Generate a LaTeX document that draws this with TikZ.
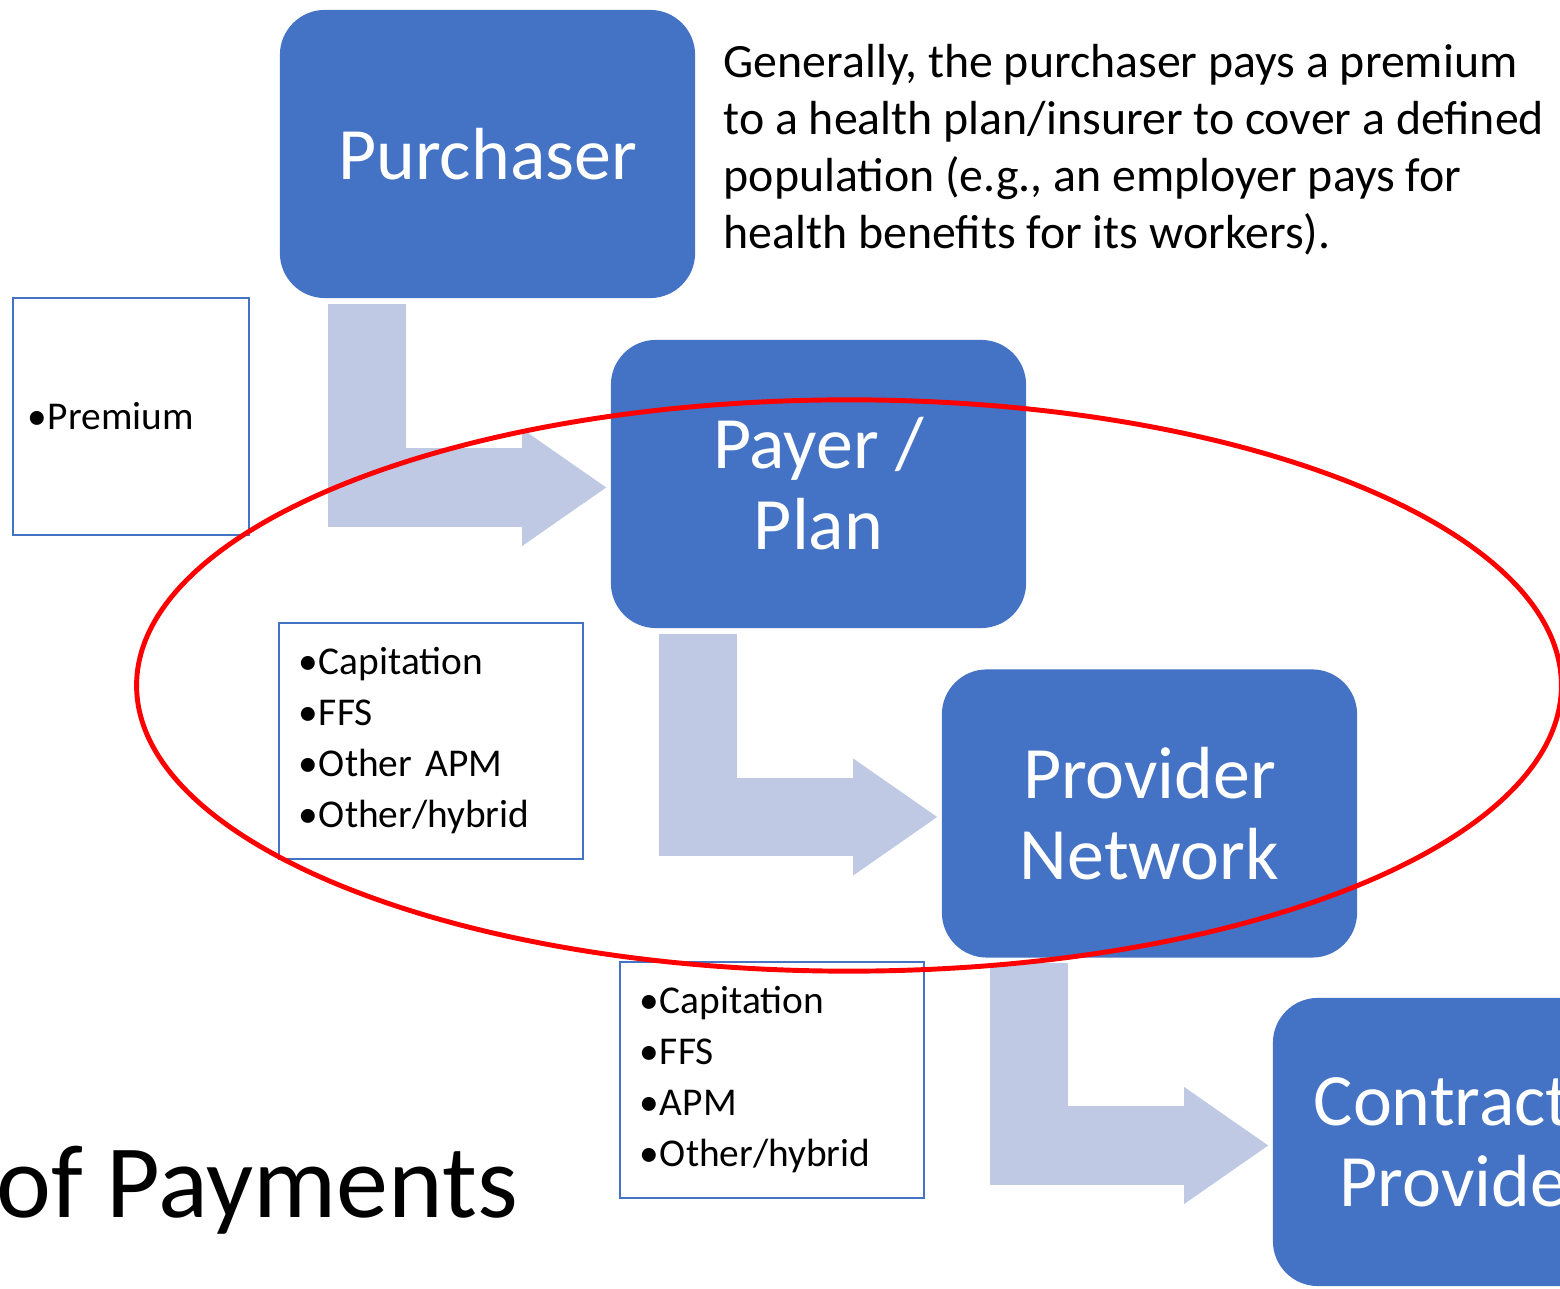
\documentclass[tikz,border=0pt]{standalone}
\usepackage{fontspec}
\setmainfont{Carlito}
\usepackage{tikz}
\usetikzlibrary{arrows.meta}

\definecolor{stepblue}{HTML}{4472C4}
\definecolor{flowblue}{RGB}{191,201,227}

% bullet with a short gap, as in the payment lists
\newcommand{\itm}{\makebox[0.2cm][l]{\textbullet}}

\begin{document}
\begin{tikzpicture}
                [x=0.01cm, y=-0.01cm,
                 party/.style = {fill=stepblue, rounded corners=0.45cm, minimum width=4.15cm,
                                 minimum height=2.88cm, inner sep=0pt, text=white, align=center,
                                 font=\fontsize{21pt}{23pt}\selectfont},
                 partytext/.style = {text=white, inner sep=0pt, anchor=base west,
                                     font=\fontsize{21pt}{23pt}\selectfont},
                 flow/.style = {draw=flowblue, line width=0.78cm,
                                -{Triangle[length=0.84cm, width=1.17cm, line width=0pt]}},
                 paybox/.style = {draw=stepblue, line width=0.6pt, inner xsep=0.2cm, inner ysep=0pt,
                                  align=left, minimum width=3.04cm, minimum height=2.36cm,
                                  text width=2.64cm, font=\fontsize{11.2pt}{14.5pt}\selectfont},
                 ring/.style = {draw=red, line width=1.4pt}]

                \useasboundingbox (0,0) rectangle (1560,1289);
                \clip (0,0) rectangle (1560,1289);

                % the four parties
                \node[party] (purchaser) at (487.5,154) {Purchaser};
                \node[party] (payer) at (818.5,484) {Payer /\\Plan};
                \node[party] (provider) at (1149.5,813.5) {Provider\\Network};
                \node[party] (contract) at (1480.5,1142) {};
                \node[partytext] (contract1) at (1313,1125.5) {Contract};
                \node[partytext] (contract2) at (1339,1206.5) {Provide};

                % money flows down the chain
                \draw[flow, shorten >=0.04cm] ([xshift=-1.205cm, yshift=-0.05cm]purchaser.south) |- ([yshift=-0.035cm]payer.west);
                \draw[flow, shorten >=0.04cm] ([xshift=-1.205cm, yshift=-0.05cm]payer.south) |- ([yshift=-0.035cm]provider.west);
                \draw[flow, shorten >=0.04cm] ([xshift=-1.205cm, yshift=-0.05cm]provider.south) |- ([yshift=-0.035cm]contract.west);

                % what is paid at each step
                \node[paybox, minimum width=2.36cm, minimum height=2.37cm, inner xsep=0.15cm,
                      text width=2.06cm] (premium) at (131,416.5) {\itm Premium};
                \node[paybox] (planpay) at (431,741)
                    {\itm Capitation\\\itm FFS\\\itm Other APM\\\itm Other/hybrid};
                \node[paybox] (networkpay) at (772,1080)
                    {\itm Capitation\\\itm FFS\\\itm APM\\\itm Other/hybrid};

                \node[anchor=north west, inner sep=0pt, align=left,
                      font=\fontsize{13.6pt}{16.2pt}\selectfont] (note) at (723,44)
                    {Generally, the purchaser pays a premium\\
                     to a health plan/insurer to cover a defined\\
                     population (e.g., an employer pays for\\
                     health benefits for its workers).};

                \node[anchor=base west, inner sep=0pt,
                      font=\fontsize{29.6pt}{35pt}\selectfont] (title) at (-4,1218) {of Payments};

                % payer and network circled
                \draw[ring] (849,685.5) ellipse [x radius=7.12cm, y radius=2.855cm];

\end{tikzpicture}
\end{document}
